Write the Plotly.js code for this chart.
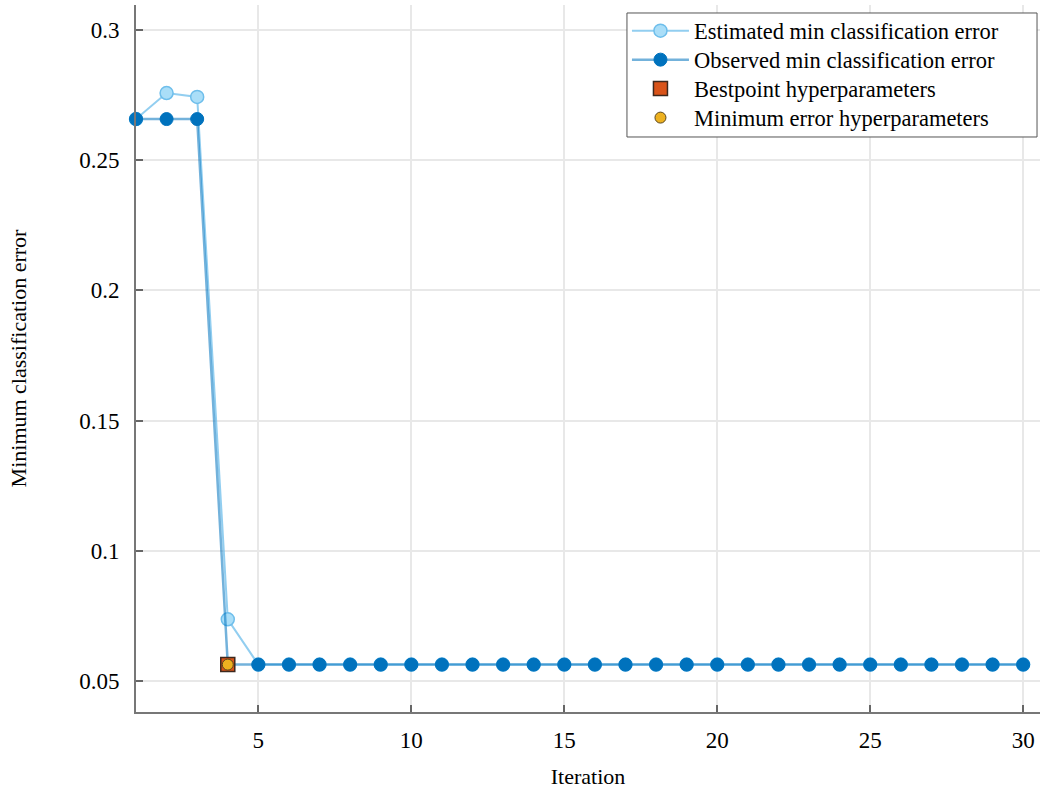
<!DOCTYPE html>
<html><head><meta charset="utf-8">
<script src="https://cdn.plot.ly/plotly-3.0.1.min.js"></script>
<style>body{margin:0;background:#fff}#chart{width:1043px;height:789px}</style>
</head><body><div id="chart"></div>
<script>
const iterations = Array.from({length:30},(_,i)=>i+1);
const estimatedError = [0.2658,0.2758,0.2743,0.0737,0.0563,0.0563,0.0563,0.0563,0.0563,0.0563,0.0563,0.0563,0.0563,0.0563,0.0563,0.0563,0.0563,0.0563,0.0563,0.0563,0.0563,0.0563,0.0563,0.0563,0.0563,0.0563,0.0563,0.0563,0.0563,0.0563];
const observedError = [0.2658,0.2658,0.2658,0.0563,0.0563,0.0563,0.0563,0.0563,0.0563,0.0563,0.0563,0.0563,0.0563,0.0563,0.0563,0.0563,0.0563,0.0563,0.0563,0.0563,0.0563,0.0563,0.0563,0.0563,0.0563,0.0563,0.0563,0.0563,0.0563,0.0563];
const bestIter = [4], bestErr = [0.0563];
const minIter = [4], minErr = [0.0563];
const xTicks = [5,10,15,20,25,30];
const yTicks = [0.05,0.1,0.15,0.2,0.25,0.3];
const yTickText = ['0.05','0.1','0.15','0.2','0.25','0.3'];
const seriesNames = ['Estimated min classification error','Observed min classification error','Bestpoint hyperparameters','Minimum error hyperparameters'];

const serif = 'Liberation Serif, Times New Roman, serif';
const traces = [
 {x:iterations,y:estimatedError,mode:'lines+markers',name:seriesNames[0],legend:'legend',
  line:{color:'rgba(110,190,235,0.75)',width:2},
  marker:{size:13,color:'rgb(170,222,248)',line:{color:'rgb(110,190,235)',width:1.5}},cliponaxis:false},
 {x:iterations,y:observedError,mode:'lines+markers',name:seriesNames[1],legend:'legend2',
  line:{color:'rgba(0,114,189,0.55)',width:2.5},
  marker:{size:13,color:'rgb(0,114,189)',line:{color:'rgb(0,114,189)',width:1}},cliponaxis:false},
 {x:bestIter,y:bestErr,mode:'markers',name:seriesNames[2],legend:'legend3',
  marker:{symbol:'square',size:14,color:'rgb(217,83,25)',line:{color:'rgb(60,40,30)',width:1.5}},cliponaxis:false},
 {x:minIter,y:minErr,mode:'markers',name:seriesNames[3],legend:'legend4',
  marker:{symbol:'circle',size:11,color:'rgb(237,177,32)',line:{color:'rgb(90,70,30)',width:1}},cliponaxis:false}
];
function leg(y){
  return {x:0.5431,xanchor:'left',y:y,yanchor:'middle',bgcolor:'rgba(0,0,0,0)',borderwidth:0,
    font:{family:serif,size:22.5,color:'#000'},itemwidth:57};
}
const layout = {
 width:1043,height:789,
 margin:{l:136,r:3,t:5,b:77},
 paper_bgcolor:'#fff',plot_bgcolor:'#fff',
 font:{family:serif,color:'#000'},
 showlegend:true,
 legend:leg(0.9632),legend2:leg(0.9222),legend3:leg(0.8812),legend4:leg(0.8402),
 shapes:[{type:'rect',xref:'paper',yref:'paper',x0:0.5431,x1:0.9967,y0:0.8133,y1:0.9887,
   line:{color:'#555',width:1},fillcolor:'#fff',layer:'above'}],
 xaxis:{range:[1,30.55],tickvals:xTicks,ticks:'inside',ticklen:7,tickcolor:'#666',tickwidth:1.5,
   showline:true,linecolor:'#777',linewidth:2,mirror:false,showgrid:true,gridcolor:'#e8e8e8',gridwidth:1.5,
   zeroline:false,tickfont:{family:serif,size:23,color:'#000'},ticklabelstandoff:6,
   title:{text:'Iteration',font:{family:serif,size:22,color:'#000'},standoff:20}},
 yaxis:{range:[0.0381,0.3096],tickvals:yTicks,ticktext:yTickText,ticks:'inside',ticklen:7,tickcolor:'#666',tickwidth:1.5,
   showline:true,linecolor:'#777',linewidth:2,showgrid:true,gridcolor:'#e8e8e8',gridwidth:1.5,
   zeroline:false,tickfont:{family:serif,size:23,color:'#000'},ticklabelstandoff:10,
   title:{text:'Minimum classification error',font:{family:serif,size:22,color:'#000'},standoff:46}}
};
Plotly.newPlot('chart',traces,layout,{displayModeBar:false});
</script></body></html>
